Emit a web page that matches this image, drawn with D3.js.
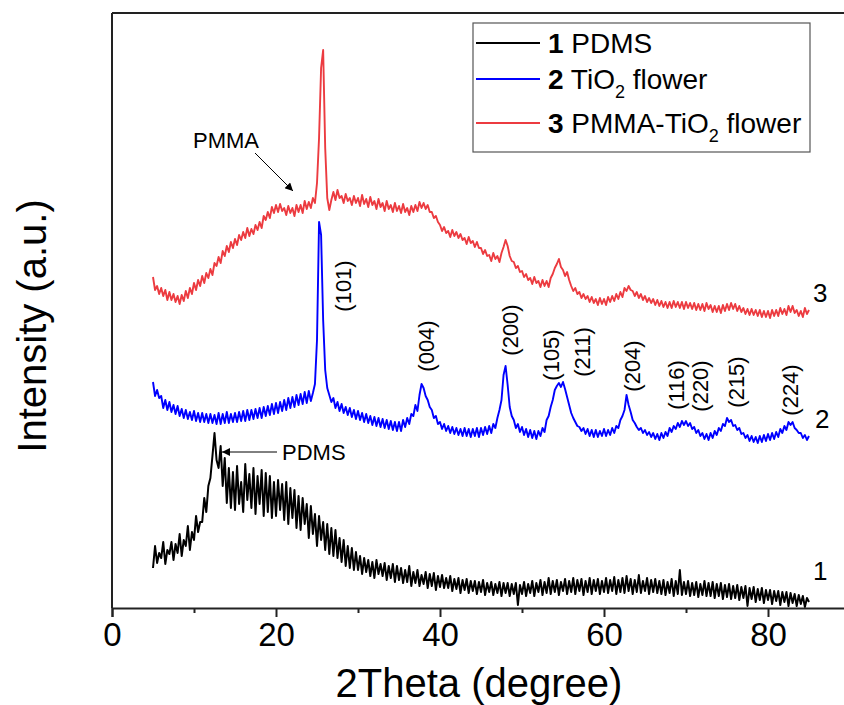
<!DOCTYPE html>
<html>
<head>
<meta charset="utf-8">
<script src="https://cdn.jsdelivr.net/npm/d3@7"></script>
<style>
  body { margin: 0; background: #fff; }
  text { font-family: "Liberation Sans", Arial, sans-serif; }
</style>
</head>
<body>
<div id="xrd"></div>
<script>
// scan: 5 to 85 degrees, one reading every 0.25 degree
var scanStart = 5;
var scanStep = 0.25;

// 1 PDMS
var pdms = [
  40, 62, 45, 55, 50, 66, 44, 58, 54, 66, 48, 64, 55, 74, 52, 68,
  62, 82, 58, 76, 68, 92, 76, 86, 86, 110, 96, 122, 130, 152, 175, 148,
  140, 162, 122, 150, 105, 140, 100, 136, 98, 142, 104, 126, 96, 144, 108, 134,
  100, 140, 94, 132, 104, 138, 92, 135, 96, 132, 90, 126, 92, 128, 98, 124,
  88, 126, 84, 120, 90, 118, 80, 112, 78, 110, 84, 104, 70, 102, 74, 94,
  62, 92, 68, 86, 58, 84, 54, 80, 52, 78, 50, 70, 46, 68, 42, 62,
  40, 60, 38, 56, 38, 52, 34, 50, 36, 48, 32, 46, 30, 48, 34, 44,
  32, 45, 28, 42, 30, 44, 26, 42, 28, 40, 25, 38, 26, 42, 22, 36,
  25, 38, 22, 33, 24, 36, 20, 34, 22, 35, 18, 32, 21, 33, 20, 30,
  20, 32, 17, 29, 19, 30, 15, 28, 18, 29, 15, 27, 17, 27, 14, 26,
  16, 28, 13, 25, 16, 26, 13, 24, 15, 26, 12, 25, 15, 25, 12, 24,
  14, 25, 3, 23, 14, 26, 12, 24, 15, 27, 12, 25, 16, 28, 13, 26,
  15, 30, 14, 27, 16, 28, 13, 26, 17, 29, 14, 27, 16, 30, 14, 28,
  17, 29, 13, 27, 16, 30, 14, 28, 17, 29, 14, 27, 16, 30, 15, 28,
  17, 31, 14, 28, 16, 30, 15, 32, 17, 29, 14, 28, 16, 33, 15, 27,
  17, 30, 14, 28, 16, 29, 15, 27, 14, 28, 13, 26, 15, 29, 12, 27,
  14, 38, 13, 26, 14, 27, 12, 25, 13, 26, 11, 24, 13, 27, 12, 25,
  12, 26, 10, 24, 12, 25, 9, 23, 11, 24, 9, 22, 10, 23, 8, 21,
  10, 22, 2, 20, 9, 21, 6, 19, 8, 20, 5, 18, 8, 18, 4, 17,
  7, 17, 3, 16, 6, 16, 2, 15, 5, 14, 2, 13, 4, 12, 1, 10,
  6
];

// 2 TiO2 flower
var tio2 = [
  226, 212, 218, 210, 212, 200, 208, 198, 206, 196, 203, 194, 202, 192, 199, 190,
  198, 189, 196, 188, 197, 187, 195, 186, 195, 186, 194, 185, 194, 185, 193, 184,
  195, 184, 194, 185, 196, 185, 194, 186, 195, 186, 196, 187, 197, 187, 198, 188,
  198, 189, 199, 190, 200, 190, 201, 192, 202, 193, 204, 194, 205, 195, 206, 197,
  208, 198, 210, 200, 211, 201, 213, 203, 214, 204, 216, 205, 217, 207, 215, 224,
  268, 386, 373, 288, 238, 220, 213, 206, 210, 200, 206, 197, 204, 195, 201, 193,
  200, 191, 198, 189, 197, 188, 195, 186, 194, 185, 192, 183, 191, 182, 190, 181,
  189, 180, 188, 179, 187, 178, 186, 177, 186, 177, 188, 181, 190, 184, 194, 192,
  203, 197, 213, 224, 220, 212, 208, 201, 198, 190, 192, 184, 186, 179, 184, 177,
  182, 175, 181, 174, 180, 173, 179, 172, 180, 172, 179, 171, 179, 172, 180, 171,
  180, 173, 181, 174, 182, 175, 184, 180, 190, 198, 208, 233, 242, 223, 201, 192,
  188, 180, 184, 176, 181, 173, 179, 171, 178, 170, 177, 169, 177, 172, 180, 176,
  188, 192, 201, 208, 218, 222, 225, 221, 226, 219, 211, 203, 195, 190, 186, 182,
  181, 177, 180, 174, 179, 172, 178, 171, 178, 171, 177, 172, 179, 172, 178, 173,
  180, 175, 182, 180, 188, 192, 198, 213, 203, 196, 188, 185, 181, 178, 180, 175,
  178, 173, 176, 171, 175, 169, 174, 168, 175, 170, 176, 172, 180, 176, 182, 179,
  185, 181, 187, 183, 187, 182, 185, 179, 181, 175, 178, 172, 175, 169, 174, 168,
  175, 170, 177, 173, 180, 177, 184, 182, 190, 186, 188, 182, 183, 178, 180, 174,
  175, 170, 173, 167, 172, 166, 171, 165, 172, 166, 173, 167, 174, 168, 175, 169,
  176, 171, 179, 175, 182, 178, 186, 183, 186, 180, 178, 175, 175, 170, 173, 168,
  172
];

// 3 PMMA-TiO2 flower
var pmmaTio2 = [
  331, 318, 322, 314, 320, 312, 318, 308, 316, 308, 314, 306, 312, 304, 313, 307,
  317, 310, 320, 314, 325, 318, 328, 322, 332, 325, 335, 330, 339, 333, 345, 342,
  351, 345, 357, 352, 362, 356, 366, 360, 369, 363, 373, 368, 376, 370, 380, 372,
  379, 374, 383, 378, 386, 380, 392, 388, 396, 390, 401, 395, 403, 396, 404, 397,
  400, 393, 402, 395, 400, 392, 403, 396, 403, 395, 407, 399, 406, 400, 410, 405,
  425, 470, 540, 558, 460, 410, 398, 408, 416, 408, 418, 410, 412, 405, 414, 407,
  410, 403, 412, 405, 410, 402, 413, 404, 409, 401, 411, 403, 407, 399, 409, 401,
  405, 397, 407, 399, 403, 396, 405, 397, 402, 395, 404, 396, 400, 393, 402, 396,
  403, 397, 406, 400, 405, 399, 403, 396, 396, 390, 392, 386, 383, 377, 381, 375,
  377, 371, 378, 372, 376, 370, 374, 368, 370, 364, 371, 365, 367, 361, 366, 360,
  360, 354, 358, 352, 353, 347, 355, 349, 352, 346, 355, 361, 368, 362, 352, 347,
  346, 340, 342, 336, 337, 331, 334, 328, 330, 324, 331, 325, 327, 321, 328, 322,
  327, 321, 330, 334, 340, 344, 349, 341, 338, 332, 336, 328, 322, 317, 320, 314,
  316, 310, 314, 309, 312, 306, 311, 305, 309, 303, 310, 304, 309, 303, 311, 306,
  312, 307, 314, 309, 316, 311, 320, 317, 322, 318, 317, 312, 316, 310, 314, 308,
  312, 306, 310, 305, 309, 303, 308, 302, 307, 301, 306, 300, 306, 300, 307, 301,
  306, 300, 306, 299, 306, 300, 305, 299, 305, 298, 304, 298, 304, 297, 305, 299,
  303, 296, 302, 296, 302, 295, 303, 297, 304, 298, 305, 299, 304, 297, 302, 296,
  300, 294, 299, 293, 299, 293, 298, 292, 298, 291, 297, 291, 297, 290, 298, 292,
  298, 292, 300, 294, 299, 293, 302, 296, 302, 295, 298, 292, 297, 291, 300, 294,
  298
];

var seriesNames = ["PDMS", "TiO2 flower", "PMMA-TiO2 flower"];
var seriesColors = ["#000000", "#0000ff", "#ec3b40"];
var seriesWidths = [2, 1.9, 1.9];

// Miller indices of the anatase reflections, with the angle / level where each label sits
var hklLabels = ["(101)", "(004)", "(200)", "(105)", "(211)", "(204)", "(116)", "(220)", "(215)", "(224)"];
var hklAngle = [28.2, 38.3, 48.6, 53.6, 57.3, 63.5, 68.8, 71.7, 76.1, 82.7];
var hklLevel = [322, 262, 278, 253, 256, 242, 223, 222, 226, 218];

var xTicks = [0, 20, 40, 60, 80];
var xMinorTicks = [10, 30, 50, 70, 90];

var width = 844;
var height = 705;
var margins = {top: 13, right: 0, bottom: 97, left: 112};

var svg = d3.select("#xrd")
    .append("svg")
    .attr("width", width)
    .attr("height", height);

var xScale = d3.scaleLinear()
    .domain([0, 90])
    .range([margins.left, margins.left + 738]);

var yScale = d3.scaleLinear()
    .domain([0, 595])
    .range([height - margins.bottom, margins.top]);

function toPoints(values) {
    return values.map((v, i) => [scanStart + i * scanStep, v]);
}

var line = d3.line()
    .x(d => xScale(d[0]))
    .y(d => yScale(d[1]));

var allSeries = [pdms, tio2, pmmaTio2];

svg.selectAll("path.scan")
    .data(allSeries)
    .enter()
    .append("path")
    .attr("class", "scan")
    .attr("d", d => line(toPoints(d)))
    .attr("fill", "none")
    .attr("stroke", (d, i) => seriesColors[i])
    .attr("stroke-width", (d, i) => seriesWidths[i])
    .attr("stroke-linejoin", "round");

// frame: top line and left axis line (no ticks on either)
svg.append("line")
    .attr("x1", xScale(0)).attr("x2", xScale(90))
    .attr("y1", yScale(595)).attr("y2", yScale(595))
    .attr("stroke", "#222").attr("stroke-width", 2);
svg.append("line")
    .attr("x1", xScale(0)).attr("x2", xScale(0))
    .attr("y1", yScale(595)).attr("y2", yScale(0))
    .attr("stroke", "#222").attr("stroke-width", 2);

// bottom axis
var xAxis = d3.axisBottom(xScale)
    .tickValues(xTicks)
    .tickSize(9)
    .tickPadding(6)
    .tickFormat(d3.format("d"));
var xAxisGroup = svg.append("g")
    .attr("transform", "translate(0," + yScale(0) + ")")
    .call(xAxis);
xAxisGroup.select(".domain").attr("stroke", "#222").attr("stroke-width", 2);
xAxisGroup.selectAll(".tick line").attr("stroke", "#222").attr("stroke-width", 2);
xAxisGroup.selectAll(".tick text")
    .style("font-family", "'Liberation Sans', Arial, sans-serif")
    .style("font-size", "33px")
    .attr("fill", "#000");

var xMinor = d3.axisBottom(xScale)
    .tickValues(xMinorTicks)
    .tickSize(5)
    .tickFormat("");
var xMinorGroup = svg.append("g")
    .attr("transform", "translate(0," + yScale(0) + ")")
    .call(xMinor);
xMinorGroup.select(".domain").remove();
xMinorGroup.selectAll(".tick line").attr("stroke", "#222").attr("stroke-width", 2);

// axis titles
svg.append("text")
    .attr("x", 479)
    .attr("y", 697)
    .attr("text-anchor", "middle")
    .style("font-size", "40px")
    .text("2Theta (degree)");

svg.append("text")
    .attr("transform", "translate(46,326) rotate(-90)")
    .attr("text-anchor", "middle")
    .style("font-size", "40px")
    .text("Intensity (a.u.)");

// curve numbers at the right end
var endLabels = [[813, 580, "1"], [815, 428, "2"], [813, 302, "3"]];
svg.selectAll("text.endlabel")
    .data(endLabels)
    .enter()
    .append("text")
    .attr("class", "endlabel")
    .attr("x", d => d[0])
    .attr("y", d => d[1])
    .style("font-size", "26px")
    .text(d => d[2]);

// hkl labels
svg.selectAll("text.hkl")
    .data(hklLabels)
    .enter()
    .append("text")
    .attr("class", "hkl")
    .attr("transform", (d, i) => "translate(" + xScale(hklAngle[i]) + "," + yScale(hklLevel[i]) + ") rotate(-90)")
    .attr("text-anchor", "middle")
    .attr("dy", "0.35em")
    .style("font-size", "22px")
    .text(d => d);

// arrows
var defs = svg.append("defs");
defs.append("marker")
    .attr("id", "arrowhead")
    .attr("viewBox", "0 0 10 10")
    .attr("refX", 10).attr("refY", 5)
    .attr("markerWidth", 11).attr("markerHeight", 8)
    .attr("markerUnits", "userSpaceOnUse")
    .attr("orient", "auto")
    .append("path")
    .attr("d", "M0,0 L10,5 L0,10 Z")
    .attr("fill", "#000");

svg.append("text")
    .attr("x", 193).attr("y", 148)
    .style("font-size", "22px")
    .text("PMMA");
svg.append("line")
    .attr("x1", 255).attr("y1", 153)
    .attr("x2", 293).attr("y2", 191)
    .attr("stroke", "#000").attr("stroke-width", 1)
    .attr("marker-end", "url(#arrowhead)");

svg.append("text")
    .attr("x", 282).attr("y", 460)
    .style("font-size", "22px")
    .text("PDMS");
svg.append("line")
    .attr("x1", 277).attr("y1", 452)
    .attr("x2", 222).attr("y2", 452)
    .attr("stroke", "#000").attr("stroke-width", 1)
    .attr("marker-end", "url(#arrowhead)");

// legend
var legend = svg.append("g");
legend.append("rect")
    .attr("x", 473).attr("y", 23)
    .attr("width", 337).attr("height", 129)
    .attr("fill", "#fff")
    .attr("stroke", "#555")
    .attr("stroke-width", 1.2);

var legendRows = [43, 79, 123];
seriesNames.forEach(function(name, i) {
    legend.append("line")
        .attr("x1", 476).attr("x2", 540)
        .attr("y1", legendRows[i]).attr("y2", legendRows[i])
        .attr("stroke", seriesColors[i])
        .attr("stroke-width", 2);
    var t = legend.append("text")
        .attr("x", 548)
        .attr("y", legendRows[i] + 10)
        .style("font-size", "28px");
    t.append("tspan").style("font-weight", "bold").text(String(i + 1));
    var parts = name.split("TiO2");
    if (parts.length === 1) {
        t.append("tspan").text(" " + name);
    } else {
        t.append("tspan").text(" " + parts[0] + "TiO");
        t.append("tspan").attr("dy", 9).style("font-size", "18px").text("2");
        t.append("tspan").attr("dy", -9).text(parts[1]);
    }
});
</script>
</body>
</html>
